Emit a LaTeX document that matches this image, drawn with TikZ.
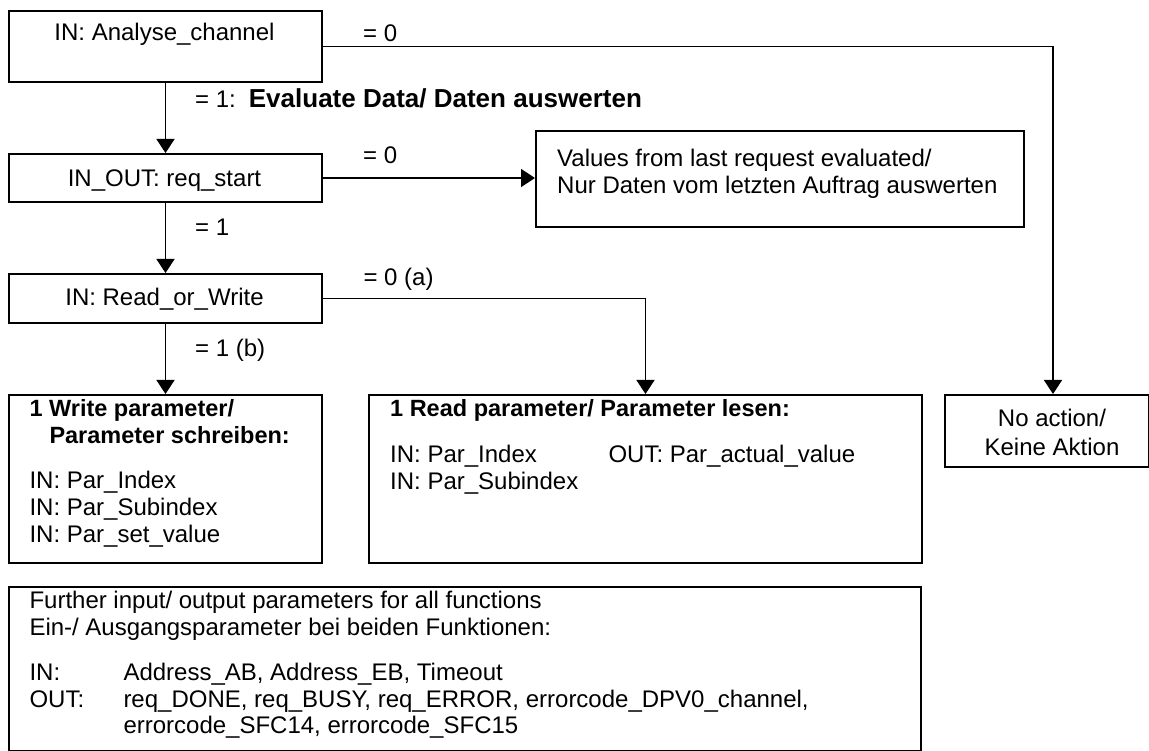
\documentclass[tikz,border=0pt]{standalone}
\usepackage{fontspec}
\setmainfont{Liberation Sans}
\usetikzlibrary{arrows.meta}
\begin{document}
\begin{tikzpicture}[x=1pt,y=-1pt,
  box/.style={draw,line width=2pt,inner sep=0pt,anchor=north west},
  conn/.style={line width=1.6pt},
  arr/.style={conn,-{Triangle[length=14pt,width=18pt]}},
  txt/.style={inner sep=0pt,font=\fontsize{24}{27}\selectfont},
  lt/.style={txt,anchor=base west},
  ct/.style={txt,anchor=base},
  hd/.style={lt,font=\fontsize{23.5}{27}\selectfont\bfseries}
]
\fill[white] (0,0) rectangle (1149,751);
\useasboundingbox (0,0) rectangle (1149,751);

% boxes
\node[box,minimum width=313pt,minimum height=71pt] (b1) at (8,10) {};
\node[box,minimum width=313pt,minimum height=48pt] (b2) at (8,153) {};
\node[box,minimum width=313pt,minimum height=49pt] (b3) at (8,273) {};
\node[box,minimum width=488pt,minimum height=96pt] (vals) at (535,130) {};
\node[box,minimum width=313pt,minimum height=168pt] (wr) at (8,394) {};
\node[box,minimum width=553pt,minimum height=168pt] (rd) at (368,394) {};
\node[box,minimum width=204pt,minimum height=72pt] (na) at (944,394) {};
\node[box,minimum width=912pt,minimum height=164pt] (fb) at (8,586) {};

% box texts
\node[ct] (t1) at (164.5,40.7) {IN: Analyse\_channel};
\node[ct] (t2) at (164.5,186.7) {IN\_OUT: req\_start};
\node[ct] (t3) at (164.5,306) {IN: Read\_or\_Write};

\node[lt] (v1) at (557,166.7) {Values from last request evaluated/};
\node[lt] (v2) at (557,194) {Nur Daten vom letzten Auftrag auswerten};

\node[hd] (w1) at (29.3,416) {1 Write parameter/};
\node[hd] (w2) at (49.3,443) {Parameter schreiben:};
\node[lt] (w3) at (29.3,488.3) {IN: Par\_Index};
\node[lt] (w4) at (29.3,515) {IN: Par\_Subindex};
\node[lt] (w5) at (29.3,542) {IN: Par\_set\_value};

\node[hd] (r1) at (390,417) {1 Read parameter/ Parameter lesen:};
\node[lt] (r2) at (390,462) {IN: Par\_Index};
\node[lt] (r3) at (390,489) {IN: Par\_Subindex};
\node[lt] (r4) at (608.3,462) {OUT: Par\_actual\_value};

\node[ct] (n1) at (1052,426.7) {No action/};
\node[ct] (n2) at (1052,455) {Keine Aktion};

\node[lt] (f1) at (29.3,608) {Further input/ output parameters for all functions};
\node[lt] (f2) at (29.3,635) {Ein-/ Ausgangsparameter bei beiden Funktionen:};
\node[lt] (f3) at (29.3,680) {IN:};
\node[lt] (f4) at (123.3,680) {Address\_AB, Address\_EB, Timeout};
\node[lt] (f5) at (29.3,707) {OUT:};
\node[lt] (f6) at (123.3,707) {req\_DONE, req\_BUSY, req\_ERROR, errorcode\_DPV0\_channel,};
\node[lt] (f7) at (123.3,733) {errorcode\_SFC14, errorcode\_SFC15};

% connector labels
\node[lt] (l1) at (363,42) {= 0};
\node[lt] (l2) at (195,108) {= 1:\hspace*{13pt}{\fontsize{26}{27}\selectfont\bfseries Evaluate Data/ Daten auswerten}};
\node[lt] (l3) at (363,163.3) {= 0};
\node[lt] (l4) at (195,235.7) {= 1};
\node[lt] (l5) at (363.3,286) {= 0 (a)};
\node[lt] (l6) at (195,356) {= 1 (b)};

% connectors
\draw[arr] (b1.south) -- (b2.north);
\draw[arr] (b1.east) -| ([xshift=6pt]na.north);
\draw[arr] (b2.east) -- (vals.west |- b2.east);
\draw[arr] (b2.south) -- (b3.north);
\draw[arr] (b3.east) -| (rd.north);
\draw[arr] (b3.south) -- (wr.north);
\end{tikzpicture}
\end{document}
